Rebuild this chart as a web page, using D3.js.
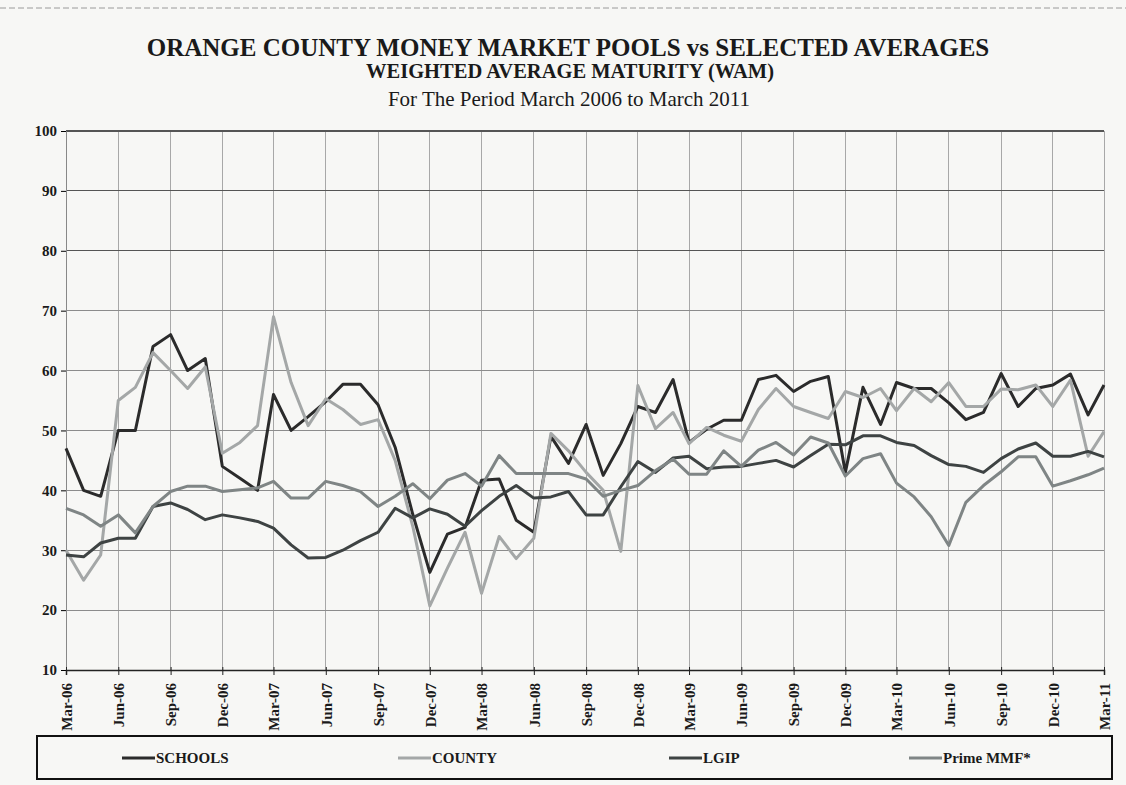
<!doctype html>
<html lang="en">
<head>
<meta charset="UTF-8">
<title>Orange County Money Market Pools vs Selected Averages</title>
<script src="https://cdn.jsdelivr.net/npm/d3@7"></script>
<style>
  body { margin: 0; background: #f7f7f5; }
  svg { display: block; font-family: "Liberation Serif", "Times New Roman", serif; }
  .grid line { shape-rendering: crispEdges; }
</style>
</head>
<body>
<svg id="chart" width="1126" height="785"></svg>
<script>
// monthly WAM (days), Mar-06 .. Mar-11
const startMonth = new Date(2006, 2, 1);
const endMonth = new Date(2011, 2, 1);
const months = d3.timeMonth.range(startMonth, d3.timeMonth.offset(endMonth, 1));

const schools = [47, 40, 39, 50, 50, 64, 66, 60, 62, 44, 42, 40,
  56, 50, 52.3, 54.8, 57.7, 57.7, 54.3, 47.2, 36, 26.3, 32.7, 33.8,
  41.7, 41.9, 35, 33, 49, 44.5, 51, 42.5, 47.8, 54, 53, 58.5,
  48, 50.2, 51.7, 51.7, 58.5, 59.2, 56.5, 58.2, 59, 43, 57.2, 51,
  58, 57, 57, 54.6, 51.8, 53, 59.5, 54, 57, 57.6, 59.4, 52.6, 57.6];

const county = [30, 25, 29.2, 55, 57.2, 63, 60, 57, 60.6, 46.2, 48, 50.8,
  69, 58, 50.8, 55.3, 53.5, 51, 51.8, 45, 34, 20.7, 27, 33,
  22.8, 32.3, 28.6, 32, 49.5, 46.6, 43, 40, 29.8, 57.5, 50.3, 53,
  47.8, 50.5, 49.2, 48.2, 53.5, 57, 54, 53, 52, 56.5, 55.5, 57,
  53.3, 57, 54.8, 58, 54, 54, 56.9, 56.8, 57.6, 54, 58.4, 45.7, 49.8];

const lgip = [29.2, 28.9, 31.2, 32, 32, 37.3, 37.9, 36.8, 35.1, 35.9, 35.4, 34.8,
  33.7, 30.9, 28.7, 28.8, 30, 31.6, 33, 37, 35.4, 36.9, 36, 34,
  36.6, 39, 40.8, 38.7, 38.9, 39.8, 35.9, 35.9, 40.6, 44.8, 43, 45.4,
  45.7, 43.6, 43.9, 44, 44.5, 45, 43.9, 45.8, 47.7, 47.6, 49.1, 49.1,
  48, 47.5, 45.8, 44.3, 44, 43, 45.3, 46.9, 47.9, 45.7, 45.7, 46.5, 45.6];

const primeMmf = [37, 35.9, 34, 35.9, 32.9, 37.3, 39.8, 40.7, 40.7, 39.8, 40.1, 40.4,
  41.5, 38.7, 38.7, 41.5, 40.8, 39.8, 37.3, 39, 41.1, 38.6, 41.7, 42.8,
  40.7, 45.8, 42.8, 42.8, 42.8, 42.8, 41.9, 39, 40, 40.8, 43.3, 45.2,
  42.7, 42.7, 46.6, 44, 46.7, 48, 45.9, 48.9, 47.9, 42.4, 45.3, 46.1,
  41.2, 38.9, 35.6, 30.8, 38, 40.8, 43.1, 45.6, 45.6, 40.7, 41.6, 42.6, 43.7];

const seriesNames = ["SCHOOLS", "COUNTY", "LGIP", "Prime MMF*"];
const seriesValues = [schools, county, lgip, primeMmf];
const seriesColors = ["#2b2b2b", "#a4a7a7", "#3e4343", "#7f8585"];
const yTicks = [10, 20, 30, 40, 50, 60, 70, 80, 90, 100];

const svg = d3.select("#chart");
const plotLeft = 66, plotRight = 1104, plotTop = 131, plotBottom = 670;

const x = d3.scaleTime().domain([startMonth, endMonth]).range([plotLeft, plotRight]);
const y = d3.scaleLinear().domain([10, 100]).range([plotBottom, plotTop]);
// quarter ticks counted from March
const quarters = d3.timeMonth.range(startMonth, d3.timeMonth.offset(endMonth, 1), 3);

// faint scan border at the top
svg.append("line")
  .attr("x1", 0).attr("x2", 1126).attr("y1", 8).attr("y2", 8)
  .attr("stroke", "#9a9a9a").attr("stroke-dasharray", "6,3");

// titles
svg.append("text").attr("x", 568).attr("y", 56).attr("text-anchor", "middle")
  .attr("font-size", 25).attr("font-weight", "bold").attr("fill", "#1a1a1a")
  .text("ORANGE COUNTY MONEY MARKET POOLS vs SELECTED AVERAGES");
svg.append("text").attr("x", 570).attr("y", 78).attr("text-anchor", "middle")
  .attr("font-size", 20.5).attr("font-weight", "bold").attr("fill", "#1a1a1a")
  .text("WEIGHTED AVERAGE MATURITY (WAM)");
svg.append("text").attr("x", 569).attr("y", 106).attr("text-anchor", "middle")
  .attr("font-size", 21).attr("fill", "#1a1a1a")
  .text("For The Period March 2006 to March 2011");

// grid
const grid = svg.append("g").attr("class", "grid");
grid.selectAll("line.v").data(quarters).join("line")
  .attr("class", "v")
  .attr("x1", d => x(d)).attr("x2", d => x(d))
  .attr("y1", plotTop).attr("y2", plotBottom)
  .attr("stroke", "#a8a8a8").attr("stroke-width", 1);
grid.selectAll("line.h").data(yTicks).join("line")
  .attr("class", "h")
  .attr("x1", plotLeft).attr("x2", plotRight)
  .attr("y1", d => y(d)).attr("y2", d => y(d))
  .attr("stroke", d => d >= 80 ? "#555" : "#8c8c8c").attr("stroke-width", d => d === 100 ? 1.6 : 1);

// axes
const yAxis = svg.append("g")
  .attr("transform", `translate(${plotLeft},0)`)
  .call(d3.axisLeft(y).tickValues(yTicks).tickSize(5).tickPadding(4));
yAxis.select(".domain").attr("stroke", "#888");
yAxis.selectAll("text").attr("font-size", 15).attr("font-weight", "bold")
  .attr("font-family", "'Liberation Serif', serif").attr("fill", "#1a1a1a");

const xAxis = svg.append("g")
  .attr("transform", `translate(0,${plotBottom})`)
  .call(d3.axisBottom(x).tickValues(quarters).tickFormat(d3.timeFormat("%b-%y")).tickSize(5));
xAxis.select(".domain").attr("stroke", "#222").attr("stroke-width", 1.5);
xAxis.selectAll(".tick line").attr("y1", -3).attr("stroke", "#222");
xAxis.selectAll("text")
  .attr("transform", "rotate(-90)")
  .attr("x", -13).attr("y", 0).attr("dy", "0.35em")
  .attr("text-anchor", "end")
  .attr("font-size", 15).attr("font-weight", "bold")
  .attr("font-family", "'Liberation Serif', serif").attr("fill", "#1a1a1a");

// series lines
const line = d3.line()
  .x((d, i) => x(months[i]))
  .y(d => y(d));

svg.append("g").selectAll("path").data(seriesValues).join("path")
  .attr("d", d => line(d))
  .attr("fill", "none")
  .attr("stroke", (d, i) => seriesColors[i])
  .attr("stroke-width", 3)
  .attr("stroke-linejoin", "round");

// legend
const legend = svg.append("g");
legend.append("rect")
  .attr("x", 37).attr("y", 736).attr("width", 1075).attr("height", 43)
  .attr("fill", "none").attr("stroke", "#111").attr("stroke-width", 2);
const legendX = [122, 398, 669, 909];
const item = legend.selectAll("g.item").data(seriesNames).join("g")
  .attr("class", "item")
  .attr("transform", (d, i) => `translate(${legendX[i]},758)`);
item.append("line")
  .attr("x1", 0).attr("x2", 33).attr("y1", 0).attr("y2", 0)
  .attr("stroke", (d, i) => seriesColors[i]).attr("stroke-width", 3);
item.append("text")
  .attr("x", 34).attr("y", 0).attr("dy", "0.35em")
  .attr("font-size", 15).attr("font-weight", "bold").attr("fill", "#1a1a1a")
  .text(d => d);
</script>
</body>
</html>
